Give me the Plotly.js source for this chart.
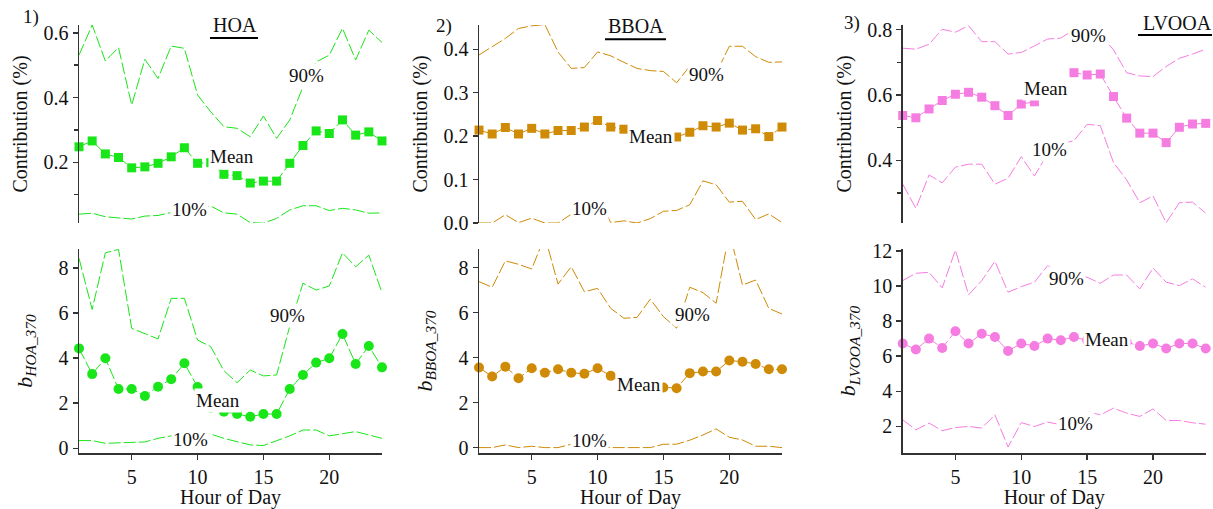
<!DOCTYPE html>
<html>
<head>
<meta charset="utf-8">
<script src="https://cdn.plot.ly/plotly-3.0.1.min.js"></script>
<style>html,body{margin:0;padding:0;background:#fff;}#chart{width:1213px;height:509px;}</style>
</head>
<body>
<div id="chart"></div>
<script>
// ---------- data ----------
const hours = [1,2,3,4,5,6,7,8,9,10,11,12,13,14,15,16,17,18,19,20,21,22,23,24];

// HOA
const hoaContribMean = [0.248,0.266,0.226,0.215,0.183,0.186,0.197,0.217,0.245,0.197,0.199,0.163,0.159,0.136,0.142,0.142,0.197,0.252,0.297,0.289,0.331,0.284,0.294,0.266];
const hoaContribP90  = [0.531,0.624,0.513,0.554,0.377,0.518,0.459,0.559,0.552,0.408,0.356,0.310,0.305,0.279,0.343,0.274,0.331,0.433,0.510,0.531,0.614,0.516,0.608,0.570];
const hoaContribP10  = [0.040,0.043,0.032,0.029,0.025,0.034,0.036,0.045,0.055,0.060,0.065,0.044,0.040,0.014,0.012,0.027,0.053,0.066,0.066,0.051,0.058,0.053,0.043,0.044];
const hoaBMean = [4.43,3.29,3.99,2.63,2.63,2.32,2.73,3.06,3.77,2.72,1.80,1.62,1.52,1.40,1.52,1.52,2.63,3.25,3.80,3.99,5.07,3.74,4.54,3.59];
const hoaBP90  = [8.43,6.16,8.67,8.82,5.32,5.07,4.85,6.65,6.65,4.80,4.51,3.44,2.91,3.47,3.21,3.25,5.42,7.32,7.02,7.20,8.67,8.05,8.57,6.90];
const hoaBP10  = [0.34,0.34,0.22,0.25,0.28,0.28,0.44,0.55,0.62,0.68,0.63,0.44,0.29,0.15,0.12,0.34,0.55,0.81,0.81,0.55,0.63,0.74,0.59,0.44];

// BBOA
const bboaContribMean = [0.214,0.205,0.220,0.205,0.218,0.205,0.213,0.213,0.221,0.236,0.221,0.216,0.205,0.203,0.200,0.198,0.209,0.224,0.221,0.230,0.214,0.217,0.199,0.221];
const bboaContribP90  = [0.387,0.406,0.425,0.448,0.454,0.457,0.394,0.356,0.358,0.394,0.385,0.370,0.356,0.351,0.349,0.323,0.361,0.350,0.345,0.407,0.407,0.383,0.370,0.371];
const bboaContribP10  = [0.000,0.000,0.019,0.001,0.011,0.000,0.000,0.020,0.040,0.060,0.001,0.005,0.000,0.010,0.027,0.029,0.042,0.097,0.088,0.048,0.050,0.008,0.021,0.001];
const bboaBMean = [3.56,3.16,3.60,3.08,3.53,3.33,3.48,3.33,3.28,3.53,3.19,2.90,2.80,2.75,2.67,2.64,3.31,3.38,3.38,3.87,3.82,3.72,3.48,3.48];
const bboaBP90  = [7.38,7.13,8.30,8.15,7.94,9.40,7.27,8.04,6.93,7.08,6.19,5.75,5.79,6.60,5.82,5.31,7.13,6.89,6.42,9.60,7.23,7.45,6.19,5.94];
const bboaBP10  = [0.00,0.00,0.12,0.00,0.06,0.00,0.00,0.15,0.10,0.05,0.00,0.00,0.00,0.00,0.15,0.15,0.33,0.56,0.83,0.46,0.34,0.06,0.06,0.00];

// LVOOA
const lvooaContribMean = [0.537,0.530,0.557,0.583,0.602,0.608,0.593,0.567,0.537,0.572,0.579,0.615,0.630,0.668,0.661,0.664,0.595,0.529,0.483,0.483,0.454,0.501,0.511,0.513];
const lvooaContribP90  = [0.743,0.740,0.755,0.801,0.792,0.812,0.763,0.763,0.725,0.730,0.750,0.771,0.774,0.800,0.800,0.785,0.738,0.668,0.658,0.656,0.687,0.712,0.725,0.740];
const lvooaContribP10  = [0.327,0.253,0.355,0.331,0.379,0.388,0.388,0.327,0.345,0.411,0.352,0.420,0.450,0.460,0.510,0.506,0.393,0.340,0.270,0.291,0.209,0.270,0.272,0.238];
const lvooaBMean = [6.72,6.38,7.00,6.47,7.42,6.72,7.28,7.09,6.30,6.72,6.58,7.00,6.91,7.09,6.90,6.85,6.90,6.80,6.58,6.72,6.44,6.72,6.72,6.44];
const lvooaBP90  = [10.30,10.72,10.77,9.89,12.04,9.49,10.30,11.40,9.64,9.96,10.21,11.15,10.80,10.60,10.49,10.15,10.62,10.62,9.83,11.02,10.21,10.02,10.40,9.92];
const lvooaBP10  = [2.38,1.81,2.19,1.76,1.94,2.00,1.91,2.66,0.83,2.22,2.00,2.25,2.10,2.40,2.85,2.66,3.04,2.76,2.57,3.00,2.34,2.34,2.21,2.13];

const factorNames = ['HOA','BBOA','LVOOA'];
const panelNumbers = ['1)','2)','3)'];
const xTickVals = [5,10,15,20];
const xTitle = 'Hour of Day';
const topYTitle = 'Contribution (%)';
const bottomYTitles = ['b<sub>HOA_370</sub>', 'b<sub>BBOA_370</sub>', 'b<sub>LVOOA_370</sub>'];

// ---------- styling ----------
const FONT = 'Liberation Serif, "Times New Roman", serif';
const colors = {HOA:'#19e619', BBOA:'#cf8a06', LVOOA:'#f57ce0'};
const DASH = '12px,3px';
const W = 1213, H = 509;
const px = v => v / W;
const py = v => 1 - v / H;

const traces = [];
function addSet(xa, ya, color, mean, p90, p10, symbol){
  [p90, p10].forEach(arr => traces.push({
    x: hours, y: arr, xaxis: xa, yaxis: ya, type: 'scatter', mode: 'lines',
    line: {color: color, width: 1, dash: DASH}, hoverinfo: 'skip', showlegend: false
  }));
  traces.push({
    x: hours, y: mean, xaxis: xa, yaxis: ya, type: 'scatter', mode: 'lines+markers',
    line: {color: color, width: 1, dash: DASH},
    marker: {color: color, symbol: symbol, size: symbol === 'square' ? 9 : 10, line: {width: 0}},
    cliponaxis: false, hoverinfo: 'skip', showlegend: false
  });
}
addSet('x',  'y',  colors.HOA,   hoaContribMean,   hoaContribP90,   hoaContribP10,   'square');
addSet('x2', 'y2', colors.HOA,   hoaBMean,         hoaBP90,         hoaBP10,         'circle');
addSet('x3', 'y3', colors.BBOA,  bboaContribMean,  bboaContribP90,  bboaContribP10,  'square');
addSet('x4', 'y4', colors.BBOA,  bboaBMean,        bboaBP90,        bboaBP10,        'circle');
addSet('x5', 'y5', colors.LVOOA, lvooaContribMean, lvooaContribP90, lvooaContribP10, 'square');
addSet('x6', 'y6', colors.LVOOA, lvooaBMean,       lvooaBP90,       lvooaBP10,       'circle');

const colDom = [[px(79), px(382)], [px(479), px(782)], [px(902.7), px(1205.7)]];
const topDom = [py(223), py(25)];
const botDom = [py(453), py(249)];

const tickFont = {family: FONT, size: 20, color: '#111'};
const titleFont = {family: FONT, size: 20, color: '#111'};
function xTop(i, anchorName){ return {domain: colDom[i], range: [1, 24], visible: false, anchor: anchorName}; }
function xBot(i, anchorName){ return {
  domain: colDom[i], range: [1, 24], anchor: anchorName,
  showline: true, linecolor: '#333', linewidth: 1.5, showgrid: false, zeroline: false,
  ticks: 'outside', ticklen: 5, tickcolor: '#333', tickwidth: 1.5,
  tickvals: xTickVals, tickfont: tickFont,
  title: {text: xTitle, font: titleFont, standoff: 4}
}; }
function yAx(dom, range, dtick, fmt, anchorName, title, standoff, minorDtick, italic){
  const a = {
    domain: dom, range: range, anchor: anchorName,
    showline: true, linecolor: '#333', linewidth: 1.5, showgrid: false, zeroline: false,
    ticks: 'outside', ticklen: 5, tickcolor: '#333', tickwidth: 1.5,
    dtick: dtick, tick0: 0, tickformat: fmt, tickfont: tickFont,
    title: {text: title, standoff: standoff,
      font: italic ? {family: FONT, size: 22, color: '#111', style: 'italic'} : titleFont}
  };
  if (minorDtick) a.minor = {dtick: minorDtick, tick0: 0, ticks: 'outside', ticklen: 4, tickcolor: '#333', tickwidth: 1.5, showgrid: false};
  return a;
}

const layout = {
  width: W, height: H,
  margin: {l: 0, r: 0, t: 0, b: 0},
  paper_bgcolor: '#fff', plot_bgcolor: 'rgba(0,0,0,0)',
  showlegend: false,
  font: {family: FONT, size: 19, color: '#111'},
  xaxis:  xTop(0, 'y'),
  xaxis2: xBot(0, 'y2'),
  xaxis3: xTop(1, 'y3'),
  xaxis4: xBot(1, 'y4'),
  xaxis5: xTop(2, 'y5'),
  xaxis6: xBot(2, 'y6'),
  yaxis:  yAx(topDom, [0.0127, 0.624], 0.2, '.1f', 'x',  topYTitle, 10, 0.1),
  yaxis2: yAx(botDom, [-0.21, 8.84], 2, 'd', 'x2', bottomYTitles[0], 20, null, true),
  yaxis3: yAx(topDom, [0, 0.456], 0.1, '.1f', 'x3', topYTitle, 10),
  yaxis4: yAx(botDom, [-0.24, 8.83], 2, 'd', 'x4', bottomYTitles[1], 20, null, true),
  yaxis5: yAx(topDom, [0.208, 0.814], 0.2, '.1f', 'x5', topYTitle, 10, 0.1),
  yaxis6: yAx(botDom, [0.49, 12.1], 2, 'd', 'x6', bottomYTitles[2], 10, null, true),
  shapes: [
    {type: 'line', xref: 'paper', yref: 'paper', x0: px(210), x1: px(258), y0: py(38), y1: py(38), line: {color: '#000', width: 2}},
    {type: 'line', xref: 'paper', yref: 'paper', x0: px(605), x1: px(666), y0: py(39.3), y1: py(39.3), line: {color: '#000', width: 2}},
    {type: 'line', xref: 'paper', yref: 'paper', x0: px(1138), x1: px(1212), y0: py(35), y1: py(35), line: {color: '#000', width: 2}}
  ],
  annotations: []
};

const ann = layout.annotations;
function lbl(text, xr, yr, x, y){
  ann.push({text: text, xref: xr, yref: yr, x: x, y: y, showarrow: false,
    xanchor: 'center', yanchor: 'middle', bgcolor: '#fff', borderpad: 1,
    font: {family: FONT, size: 19, color: '#111'}});
}
// series labels (opaque, covering lines as in the reference)
lbl('Mean', 'x', 'y', 12.62, 0.219);
lbl('90%',  'x', 'y', 18.27, 0.469);
lbl('10%',  'x', 'y', 9.39, 0.053);
lbl('Mean', 'x2', 'y2', 11.52, 2.14);
lbl('90%',  'x2', 'y2', 16.83, 5.89);
lbl('10%',  'x2', 'y2', 9.47, 0.37);
lbl('Mean', 'x3', 'y3', 14.02, 0.200);
lbl('90%',  'x3', 'y3', 18.27, 0.341);
lbl('10%',  'x3', 'y3', 9.39, 0.033);
lbl('Mean', 'x4', 'y4', 13.11, 2.81);
lbl('90%',  'x4', 'y4', 17.23, 5.90);
lbl('10%',  'x4', 'y4', 9.41, 0.30);
lbl('Mean', 'x5', 'y5', 11.84, 0.620);
lbl('90%',  'x5', 'y5', 15.11, 0.781);
lbl('10%',  'x5', 'y5', 12.15, 0.433);
lbl('Mean', 'x6', 'y6', 16.47, 6.93);
lbl('90%',  'x6', 'y6', 13.44, 10.44);
lbl('10%',  'x6', 'y6', 14.09, 2.15);

function paperText(text, x, y, size){
  ann.push({text: text, xref: 'paper', yref: 'paper', x: px(x), y: py(y), showarrow: false,
    xanchor: 'center', yanchor: 'middle',
    font: {family: FONT, size: size, color: '#111'}});
}
// panel numbers and factor titles
paperText(panelNumbers[0], 31, 17, 19);
paperText(panelNumbers[1], 444, 26, 19);
paperText(panelNumbers[2], 852, 23, 19);
paperText(factorNames[0], 235, 25, 20);
paperText(factorNames[1], 636, 26, 20);
paperText(factorNames[2], 1177, 23, 20);

Plotly.newPlot('chart', traces, layout, {displayModeBar: false, staticPlot: true});
</script>
</body>
</html>
